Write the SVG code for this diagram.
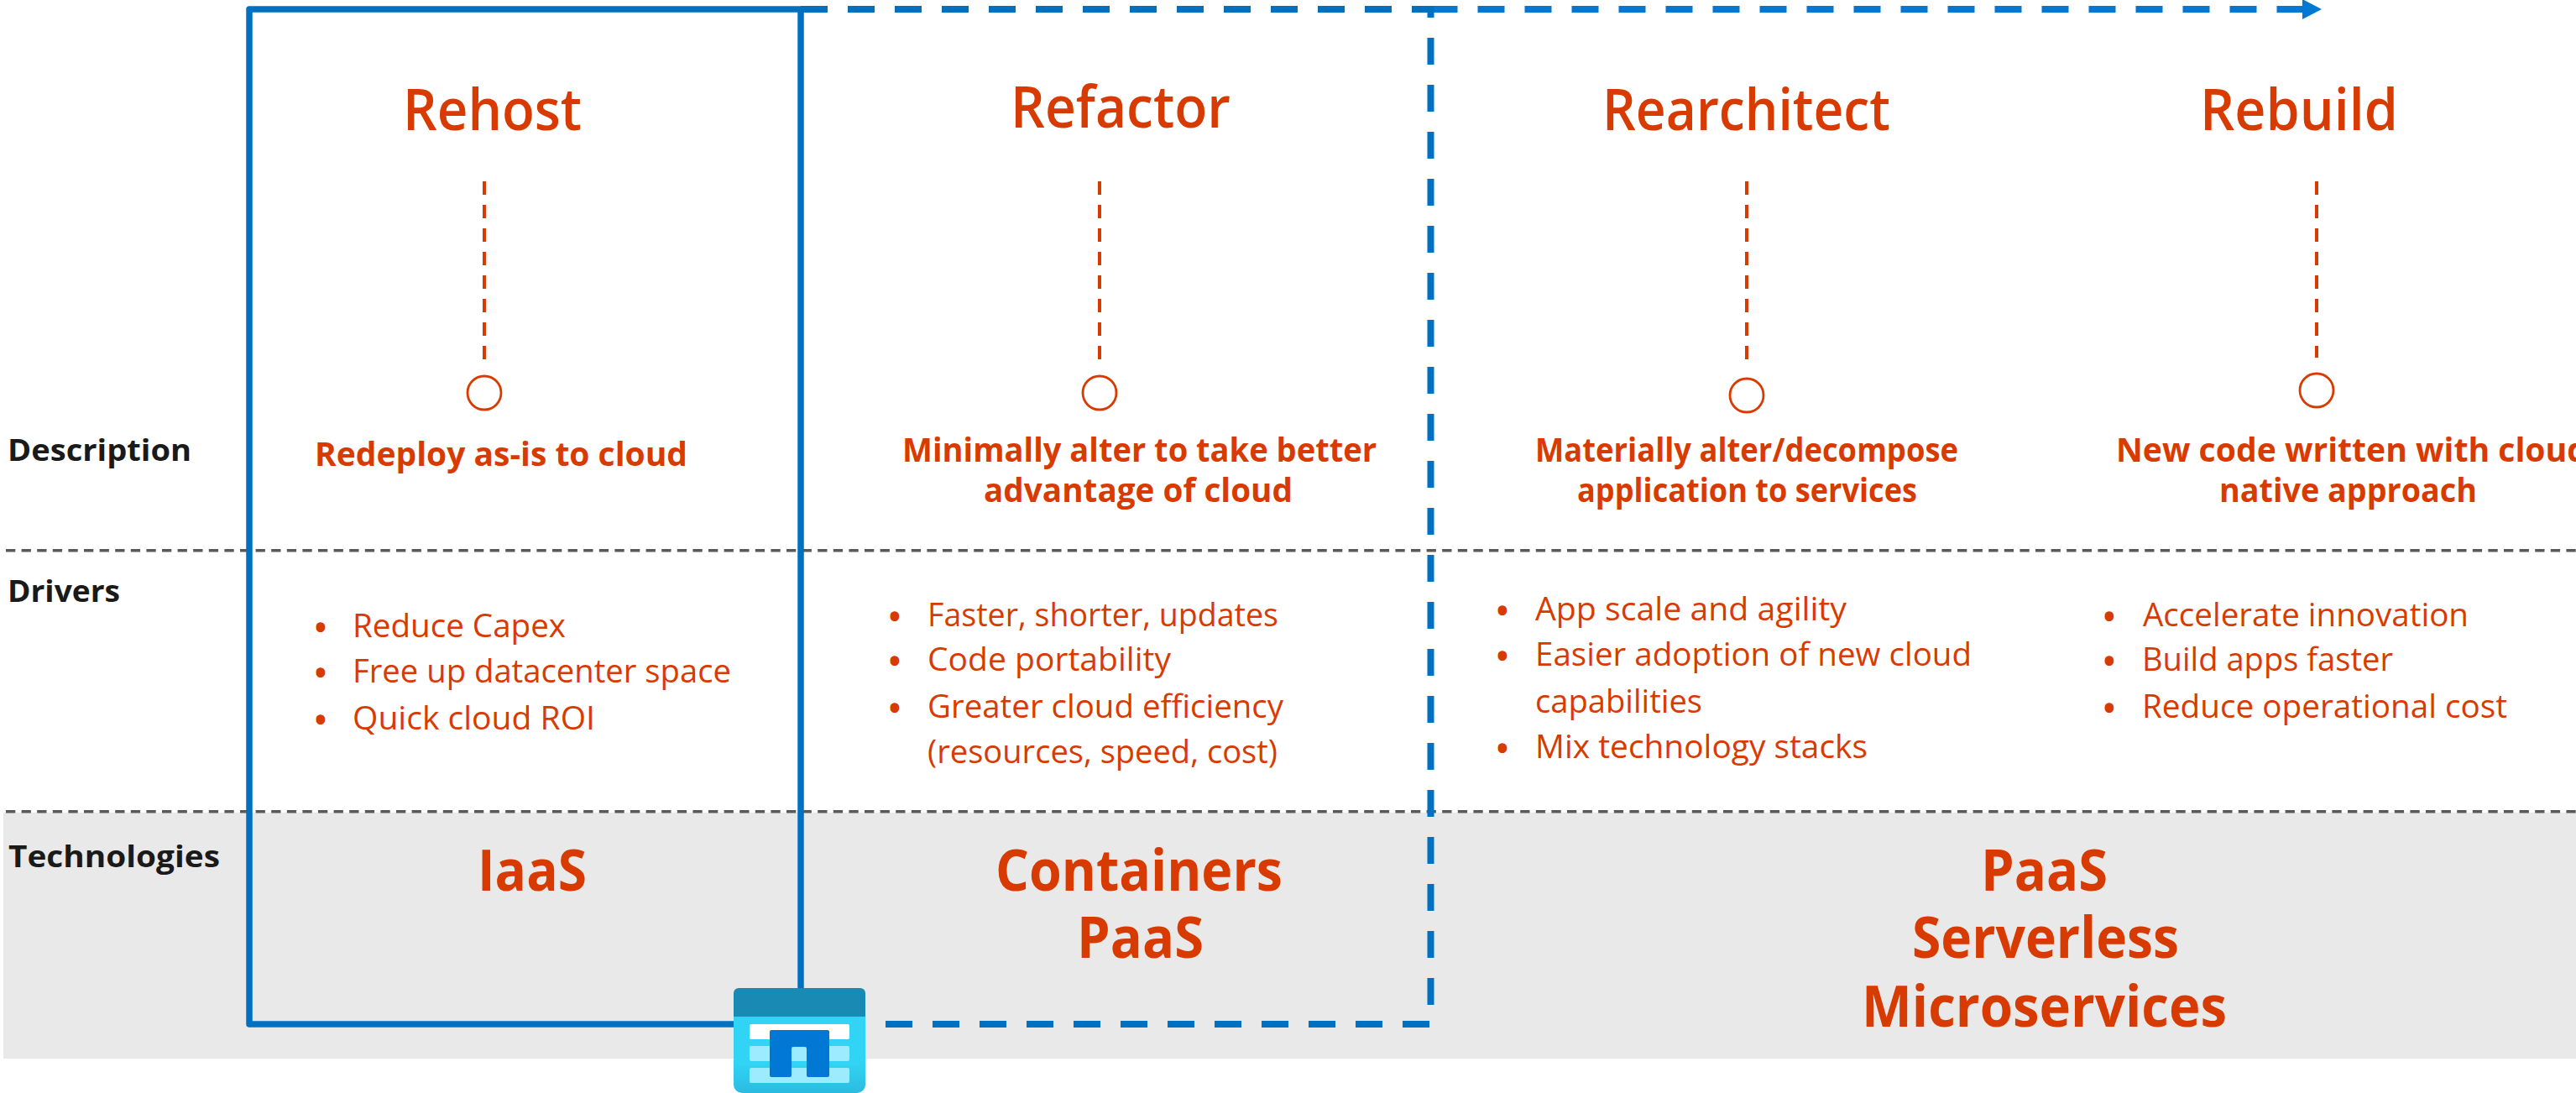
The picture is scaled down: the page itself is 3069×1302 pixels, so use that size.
<svg xmlns="http://www.w3.org/2000/svg" width="3069" height="1302" viewBox="0 0 3069 1302">
<style>
text{font-family:"Open Sans","Noto Sans","Liberation Sans",sans-serif;fill:#d83b01}
.h{font-size:68px;font-weight:600}
.d{font-size:40px;font-weight:700}
.l{font-size:38px}
.u{font-size:38px;font-weight:700;text-anchor:middle}
.b{font-size:36px;font-weight:700;fill:#1a1a1a}
.t{font-size:68px;font-weight:700}
.rule{stroke:#595959;stroke-width:3.5;stroke-dasharray:11.3 7.3;fill:none}
.lead{stroke:#d83b01;stroke-width:4;stroke-dasharray:16 12;fill:none}
.dot{stroke:#d83b01;stroke-width:2.8;fill:#fff}
</style>
<defs>
<marker id="arr" markerUnits="userSpaceOnUse" markerWidth="24" markerHeight="24" refX="0" refY="12" orient="auto"><path d="M0 0L23 12L0 24Z" fill="#0078d4"/></marker>
<linearGradient id="body" x1="0" y1="0" x2="0" y2="1"><stop offset="0.6" stop-color="#32d4f5"/><stop offset="1" stop-color="#2bbbe0"/></linearGradient>
</defs>
<rect x="4" y="968" width="3065" height="293" fill="#e9e9e9"/>
<g id="rules"><path class="rule" d="M7 655.7H3069"/><path class="rule" d="M7 966.7H3069"/></g>
<g id="connectors" fill="none">
<path d="M1704.5 11H2743" stroke="#0078d4" stroke-width="8" stroke-dasharray="32 24" marker-end="url(#arr)"/>
<path d="M954 11H1704.5" stroke="#0070c0" stroke-width="8" stroke-dasharray="32 24"/>
<path d="M1704.5 1197V7" stroke="#0070c0" stroke-width="8" stroke-dasharray="32 24"/>
<path d="M1703 1220H980" stroke="#0070c0" stroke-width="8" stroke-dasharray="32 24"/>
<path d="M297 11H954V1220H297Z" stroke="#0070c0" stroke-width="7.5" stroke-linejoin="round"/>
</g>
<g id="labels">
<text class="b" x="9" y="549" textLength="219" lengthAdjust="spacingAndGlyphs">Description</text>
<text class="b" x="9" y="717" textLength="134" lengthAdjust="spacingAndGlyphs">Drivers</text>
<text class="b" x="10" y="1033" textLength="252" lengthAdjust="spacingAndGlyphs">Technologies</text>
</g>
<g id="rehost">
<text class="h" x="480" y="155" textLength="213" lengthAdjust="spacingAndGlyphs">Rehost</text>
<path class="lead" d="M577 216V428"/><circle class="dot" cx="577" cy="468" r="20"/>
<text class="d" x="375" y="555" textLength="444" lengthAdjust="spacingAndGlyphs">Redeploy as-is to cloud</text>
<text class="u" x="382" y="761">•</text><text class="l" x="420" y="759" textLength="254" lengthAdjust="spacingAndGlyphs">Reduce Capex</text>
<text class="u" x="382" y="815">•</text><text class="l" x="420" y="813" textLength="451" lengthAdjust="spacingAndGlyphs">Free up datacenter space</text>
<text class="u" x="382" y="871">•</text><text class="l" x="420" y="869" textLength="289" lengthAdjust="spacingAndGlyphs">Quick cloud ROI</text>
<text class="t" x="569" y="1061" textLength="130" lengthAdjust="spacingAndGlyphs">IaaS</text>
</g>
<g id="refactor">
<text class="h" x="1204" y="152" textLength="262" lengthAdjust="spacingAndGlyphs">Refactor</text>
<path class="lead" d="M1310 216V428"/><circle class="dot" cx="1310" cy="468" r="20"/>
<text class="d" x="1075" y="550" textLength="565" lengthAdjust="spacingAndGlyphs">Minimally alter to take better</text>
<text class="d" x="1172" y="598" textLength="368" lengthAdjust="spacingAndGlyphs">advantage of cloud</text>
<text class="u" x="1066" y="748">•</text><text class="l" x="1105" y="746" textLength="418" lengthAdjust="spacingAndGlyphs">Faster, shorter, updates</text>
<text class="u" x="1066" y="801">•</text><text class="l" x="1105" y="799" textLength="290" lengthAdjust="spacingAndGlyphs">Code portability</text>
<text class="u" x="1066" y="857">•</text><text class="l" x="1105" y="855" textLength="424" lengthAdjust="spacingAndGlyphs">Greater cloud efficiency</text>
<text class="l" x="1105" y="909" textLength="417" lengthAdjust="spacingAndGlyphs">(resources, speed, cost)</text>
<text class="t" x="1186" y="1061" textLength="342" lengthAdjust="spacingAndGlyphs">Containers</text>
<text class="t" x="1283" y="1141" textLength="151" lengthAdjust="spacingAndGlyphs">PaaS</text>
</g>
<g id="rearchitect">
<text class="h" x="1909" y="155" textLength="343" lengthAdjust="spacingAndGlyphs">Rearchitect</text>
<path class="lead" d="M2081 216V428"/><circle class="dot" cx="2081" cy="471" r="20"/>
<text class="d" x="1829" y="550" textLength="504" lengthAdjust="spacingAndGlyphs">Materially alter/decompose</text>
<text class="d" x="1879" y="598" textLength="405" lengthAdjust="spacingAndGlyphs">application to services</text>
<text class="u" x="1790" y="741">•</text><text class="l" x="1829" y="739" textLength="371" lengthAdjust="spacingAndGlyphs">App scale and agility</text>
<text class="u" x="1790" y="795">•</text><text class="l" x="1829" y="793" textLength="520" lengthAdjust="spacingAndGlyphs">Easier adoption of new cloud</text>
<text class="l" x="1829" y="849" textLength="199" lengthAdjust="spacingAndGlyphs">capabilities</text>
<text class="u" x="1790" y="905">•</text><text class="l" x="1829" y="903" textLength="396" lengthAdjust="spacingAndGlyphs">Mix technology stacks</text>
</g>
<g id="rebuild">
<text class="h" x="2621" y="155" textLength="236" lengthAdjust="spacingAndGlyphs">Rebuild</text>
<path class="lead" d="M2760 216V426"/><circle class="dot" cx="2760" cy="465" r="20"/>
<text class="d" x="2521" y="550" textLength="562" lengthAdjust="spacingAndGlyphs">New code written with cloud</text>
<text class="d" x="2644" y="598" textLength="307" lengthAdjust="spacingAndGlyphs">native approach</text>
<text class="u" x="2513" y="748">•</text><text class="l" x="2553" y="746" textLength="388" lengthAdjust="spacingAndGlyphs">Accelerate innovation</text>
<text class="u" x="2513" y="801">•</text><text class="l" x="2552" y="799" textLength="299" lengthAdjust="spacingAndGlyphs">Build apps faster</text>
<text class="u" x="2513" y="857">•</text><text class="l" x="2552" y="855" textLength="435" lengthAdjust="spacingAndGlyphs">Reduce operational cost</text>
</g>
<g id="technologies-right">
<text class="t" x="2360" y="1061" textLength="151" lengthAdjust="spacingAndGlyphs">PaaS</text>
<text class="t" x="2278" y="1141" textLength="318" lengthAdjust="spacingAndGlyphs">Serverless</text>
<text class="t" x="2218" y="1223" textLength="435" lengthAdjust="spacingAndGlyphs">Microservices</text>
</g>
<g id="icon">
<path d="M874 1211H1031V1292a10 10 0 0 1-10 10H884a10 10 0 0 1-10-10Z" fill="url(#body)"/>
<path d="M880 1177H1025a6 6 0 0 1 6 6V1211H874V1183a6 6 0 0 1 6-6Z" fill="#198ab3"/>
<rect x="893" y="1220" width="119" height="18" rx="2" fill="#fff"/>
<rect x="893" y="1246" width="119" height="18" rx="2" fill="#9cebff"/>
<rect x="893" y="1272" width="119" height="18" rx="2" fill="#9cebff"/>
<path d="M917 1229a2 2 0 0 1 2-2H986a2 2 0 0 1 2 2V1281a2 2 0 0 1-2 2H963a2 2 0 0 1-2-2V1249a2 2 0 0 0-2-2H945a2 2 0 0 0-2 2V1281a2 2 0 0 1-2 2H919a2 2 0 0 1-2-2Z" fill="#0078d4"/>
</g>
</svg>
